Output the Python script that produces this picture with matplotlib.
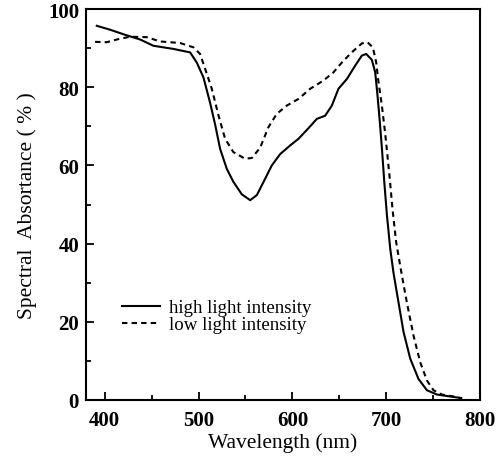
import matplotlib
matplotlib.use("Agg")
import matplotlib.pyplot as plt
from matplotlib.ticker import MultipleLocator

# Data
wl_high = [391.5, 405.7, 421.7, 437.7, 451.8, 473, 491, 498.1, 505.2, 512.3, 517.6, 523,
           530.1, 537.1, 546.1, 555, 562.1, 569.1, 578.1, 587, 597.6, 606.5, 617.1, 626.1,
           634.9, 642.1, 649.1, 658.1, 666.9, 674.1, 678.7, 684.7, 688.3, 690.7, 692.9,
           695.4, 697.9, 700.7, 704.3, 707.8, 713.1, 718.5, 725.6, 734.4, 743.4, 754,
           768.2, 780]
abs_high = [95.7, 94.7, 93.4, 92.2, 90.6, 89.8, 88.9, 86.3, 82.5, 76, 70.5, 64.2,
            59.1, 55.8, 52.6, 51.1, 52.4, 55.7, 60, 62.9, 65.1, 66.8, 69.5, 71.9,
            72.7, 75.3, 79.6, 82.1, 85.5, 88.1, 88.5, 87.0, 83.8, 78.0, 72,
            64.5, 56, 47.5, 38.7, 32.5, 25, 17.4, 10.6, 5.4, 2.5, 1.4,
            0.9, 0.5]

wl_low = [389.7, 402, 414.5, 427, 444.8, 459, 480.3, 494.5, 501.6, 507, 514.1, 521.2,
          528.3, 537.1, 549.6, 556.8, 565.6, 574.5, 583.4, 594.1, 606.5, 619, 633.1,
          643.8, 654.5, 665.1, 674.1, 680, 685.8, 689.3, 691.8, 695.4, 699, 703.5,
          706.7, 710.6, 716.4, 722, 729.1, 736.2, 743.4, 750.4, 759.4, 771.8, 779]
abs_low = [91.6, 91.5, 92.3, 92.9, 92.8, 91.7, 91.3, 90.2, 88.5, 84.7, 79.6, 72.8,
           66.8, 63.4, 61.7, 61.9, 64.5, 69.8, 73.2, 75.3, 77, 79.6, 81.7,
           83.8, 86.8, 89.3, 91.2, 91.5, 90.2, 86.4, 81.3, 75.3, 68, 57.4,
           48.9, 40.4, 32.3, 25, 16.5, 9.7, 5, 2.5, 1.4, 0.9, 0.5]

labels = ["high light intensity", "low light intensity"]
xlabel = "Wavelength (nm)"
ylabel = "Spectral  Absortance ( % )"

plt.rcParams['font.family'] = ['Liberation Serif', 'DejaVu Serif']

fig = plt.figure(figsize=(5.01, 4.64), dpi=100)
ax = fig.add_axes([86/501, 1-401/464, (480-86)/501, (401-10)/464])

ax.plot(wl_high, abs_high, color='black', lw=1.5, label=labels[0],
        solid_joinstyle='round')
ax.plot(wl_low, abs_low, color='black', lw=1.5, linestyle=(0, (2.6, 2.0)),
        label=labels[1])

ax.set_xlim(380, 800)
ax.set_ylim(0, 100)
ax.xaxis.set_major_locator(MultipleLocator(100))
ax.xaxis.set_minor_locator(MultipleLocator(50))
ax.yaxis.set_major_locator(MultipleLocator(20))
ax.yaxis.set_minor_locator(MultipleLocator(10))
ax.tick_params(which='both', direction='in', top=False, right=False, width=1.3)
ax.tick_params(which='major', length=6)
ax.tick_params(which='minor', length=3.5)
ax.tick_params(axis='x', pad=7)
ax.tick_params(axis='y', pad=5)
for lab in ax.get_xticklabels() + ax.get_yticklabels():
    lab.set_fontweight('bold')
    lab.set_fontsize(15)
for s in ax.spines.values():
    s.set_linewidth(1.5)

ax.set_xlabel(xlabel, fontsize=15.5, labelpad=2)
ax.set_ylabel(ylabel, fontsize=15.5, labelpad=8)

leg = ax.legend(loc='upper left', bbox_to_anchor=((122-86)/394, (401-300)/391), frameon=False,
                fontsize=13.6, handlelength=2.0, handletextpad=0.5, labelspacing=0.0,
                borderaxespad=0, borderpad=0)

fig.savefig('out.png', dpi=100)
